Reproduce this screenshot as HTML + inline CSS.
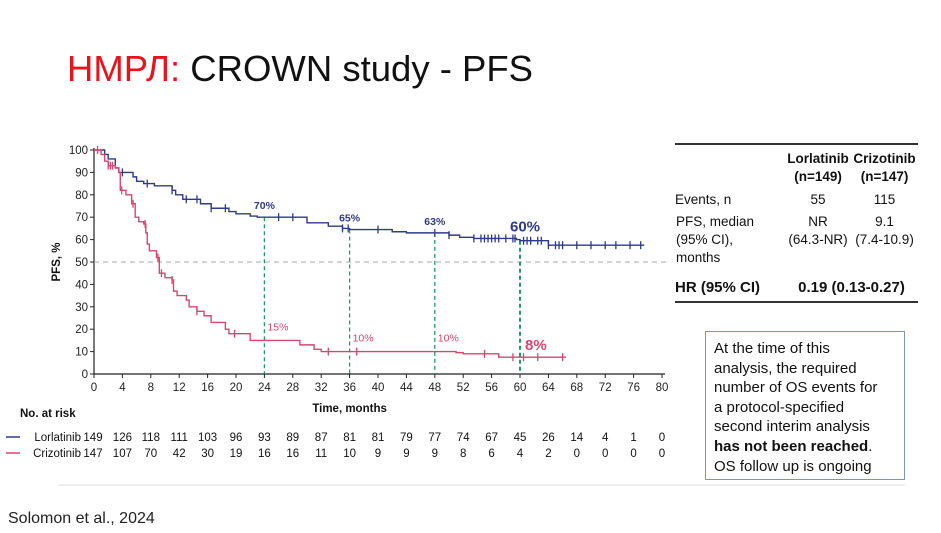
<!DOCTYPE html>
<html><head><meta charset="utf-8"><style>
body{margin:0;width:941px;height:533px;background:#fff;overflow:hidden;font-family:"Liberation Sans",sans-serif;position:relative}
.t{position:absolute}
</style></head><body>
<div class="t" style="left:67px;top:48px;font-size:36.5px;font-family:'Liberation Sans','DejaVu Sans',sans-serif;color:#111"><span style="color:#e8141c">НМРЛ:</span> CROWN study - PFS</div>
<svg id="chart" width="941" height="533" style="position:absolute;left:0;top:0;font-family:'Liberation Sans',sans-serif"></svg>
<table style="position:absolute;left:675px;top:143px;width:243px;border-collapse:collapse;font-size:13.5px;color:#111;border-top:2px solid #333;border-bottom:2px solid #333">
<tr><td style="width:108px"></td><td style="text-align:center;font-weight:bold;padding-top:5px;line-height:18px">Lorlatinib<br>(n=149)</td><td style="text-align:center;font-weight:bold;padding-top:5px;line-height:18px">Crizotinib<br>(n=147)</td></tr>
<tr><td style="padding:5px 0 1px">Events, n</td><td style="text-align:center;padding-top:5px">55</td><td style="text-align:center;padding-top:5px">115</td></tr>
<tr><td style="vertical-align:top;padding-top:5px;line-height:18px">PFS, median<br>(95% CI),<br>months</td><td style="text-align:center;vertical-align:top;padding-top:5px;line-height:18px">NR<br>(64.3-NR)</td><td style="text-align:center;vertical-align:top;padding-top:5px;line-height:18px">9.1<br>(7.4-10.9)</td></tr>
<tr><td style="font-weight:bold;font-size:15px;padding:11px 0 5px">HR (95% CI)</td><td colspan="2" style="text-align:center;font-weight:bold;font-size:15px;padding-top:11px;padding-bottom:5px">0.19 (0.13-0.27)</td></tr>
</table>
<div style="position:absolute;left:705px;top:331px;width:190px;height:140px;border:1.5px solid #7c95c4;padding:7px 0 0 8px;font-size:15px;line-height:19.6px;color:#111;white-space:nowrap">At the time of this<br>analysis, the required<br>number of OS events for<br>a protocol-specified<br>second interim analysis<br><b>has not been reached</b>.<br>OS follow up is ongoing</div>
<div class="t" style="left:8px;top:510px;font-size:16px;font-family:'Liberation Sans','DejaVu Sans',sans-serif;color:#222">Solomon et al., 2024</div>
<script>
const lorSteps=[[0,100],[1.5,98],[2,96],[3,92],[3.5,90],[5.5,88],[6,86],[7,85],[8.5,84],[11,82],[11.5,80],[12.5,78],[15,76],[16.5,74],[19,72.5],[20,71.5],[22,70.5],[23,70],[30,67.5],[33,66],[35,65],[36,64.5],[42,63.5],[44,63],[50,62],[51.5,61],[53.5,60.5],[59.5,60],[60,59.5],[64,57.5],[77.5,57.5]];
const lorCensor=[4,7.5,11,13,14.5,16.5,18.5,26,28,35,35.8,40,48,50,53.5,54.5,55,55.5,56,56.5,57,58,59,59.3,60.5,61,61.5,62.5,63,64,65,65.5,66,68,70,72,73.5,75.5,77];
const crzSteps=[[0,100],[1,98],[1.5,95],[2,93],[3,92],[3.5,90],[3.7,82],[4.5,80],[5.3,76],[5.8,70],[6.3,68],[7,67],[7.3,63],[7.5,58],[7.8,55],[8.8,52],[9.2,45],[10,43],[11,42],[11.2,37],[11.7,35],[13,33],[13.4,30],[14.5,28],[15.5,26],[16.5,23],[18.5,20],[19,18],[22,15],[29,13],[31,11],[32,10],[51,9.5],[52,9],[57,7.5],[66.5,7.5]];
const crzCensor=[0.5,2,2.3,2.6,3.9,5.5,7.2,9,9.5,11,14.5,19.8,33,37,55,59,60.5,62.5,66];
const landmarks=[24,36,48,60];
const lorLabels=["70%","65%","63%","60%"];
const crzLabels=["15%","10%","10%","8%"];
const xTicks=[0,4,8,12,16,20,24,28,32,36,40,44,48,52,56,60,64,68,72,76,80];
const yTicks=[0,10,20,30,40,50,60,70,80,90,100];
const lorRisk=[149,126,118,111,103,96,93,89,87,81,81,79,77,74,67,45,26,14,4,1,0];
const crzRisk=[147,107,70,42,30,19,16,16,11,10,9,9,9,8,6,4,2,0,0,0,0];
const svg=document.getElementById('chart');const NS='http://www.w3.org/2000/svg';
const X=t=>94+t*7.1, Y=v=>374-v*2.24;
function mk(tag,a,txt){const e=document.createElementNS(NS,tag);for(const k in a)e.setAttribute(k,a[k]);if(txt!=null)e.textContent=txt;svg.appendChild(e);return e;}
function survAt(steps,t){let v=100;for(const s of steps){if(s[0]<=t)v=s[1];}return v;}
let e;
e=mk('line',{x1:94,y1:Y(100)-2,x2:94,y2:374,stroke:'#222','stroke-width':1.2});

e=mk('line',{x1:94,y1:374,x2:X(80)+3,y2:374,stroke:'#222','stroke-width':1.2});

yTicks.forEach(v=>{mk('line',{x1:90,y1:Y(v),x2:94,y2:Y(v),stroke:'#222'});
e=mk('text',{x:88,y:Y(v)+4,'text-anchor':'end','font-size':11.5,fill:'#222'},v);
});
xTicks.forEach((t,i)=>{mk('line',{x1:X(t),y1:374,x2:X(t),y2:378,stroke:'#222'});
e=mk('text',{x:X(t),y:391,'text-anchor':'middle','font-size':11.5,fill:'#222'},t);
});
e=mk('text',{x:60,y:Y(50),'text-anchor':'middle','font-size':11.5,'font-weight':'bold',fill:'#111',transform:`rotate(-90 60 ${Y(50)})`},'PFS, %');

e=mk('text',{x:X(36),y:412,'text-anchor':'middle','font-size':11.5,'font-weight':'bold',fill:'#111'},'Time, months');

e=mk('line',{x1:94,y1:Y(50),x2:666,y2:Y(50),stroke:'#aaa','stroke-dasharray':'5,4'});

function curve(steps,color,name){let d=`M${X(steps[0][0])},${Y(steps[0][1])}`;for(let i=1;i<steps.length;i++){d+=`H${X(steps[i][0])}V${Y(steps[i][1])}`;}
const p=mk('path',{d,fill:'none',stroke:color,'stroke-width':1.4});}
landmarks.forEach((t,i)=>{e=mk('line',{x1:X(t),y1:Y(survAt(lorSteps,t)),x2:X(t),y2:374,stroke:'#1f9a6a','stroke-width':i==3?2:1.3,'stroke-dasharray':'4,3'});
});
curve(lorSteps,'#2e3a8c','lorlatinib-curve');curve(crzSteps,'#d9456e','crizotinib-curve');
function cens(arr,steps,color,name){arr.forEach(t=>{const y=Y(survAt(steps,t));e=mk('line',{x1:X(t),y1:y-4,x2:X(t),y2:y+4,stroke:color,'stroke-width':1.3});
});}
cens(lorCensor,lorSteps,'#2e3a8c','lorlatinib-censor');cens(crzCensor,crzSteps,'#d9456e','crizotinib-censor');
landmarks.forEach((t,i)=>{const big=i==3;
e=mk('text',{x:X(t)+(big?-10:0),y:Y(survAt(lorSteps,t))-(big?9:8),'text-anchor':big?'start':'middle','font-size':big?15:10.5,'font-weight':'bold',fill:'#2e3a8c'},lorLabels[i]);

e=mk('text',{x:X(t)+(big?5:3),y:Y(survAt(crzSteps,t))-(big?7:10),'font-size':big?15:10.5,'font-weight':big?'bold':'normal',fill:'#d9456e'},crzLabels[i]);
});
e=mk('text',{x:20,y:417,'font-size':11.5,'font-weight':'bold',fill:'#111'},'No. at risk');

[[lorRisk,'Lorlatinib','#2e3a8c',441],[crzRisk,'Crizotinib','#d9456e',457]].forEach(([arr,nm,c,y])=>{
e=mk('line',{x1:6,y1:y-4,x2:20,y2:y-4,stroke:c,'stroke-width':1.5});
e=mk('text',{x:81,y:y,'text-anchor':'end','font-size':11.5,fill:'#111'},nm);
arr.forEach((v,i)=>{e=mk('text',{x:i==0?X(0)-1:X(xTicks[i]),y:y,'text-anchor':'middle','font-size':11.5,fill:'#111'},v);
});});
e=mk('line',{x1:58,y1:485,x2:905,y2:485,stroke:'#ddd'});
</script>
</body></html>
